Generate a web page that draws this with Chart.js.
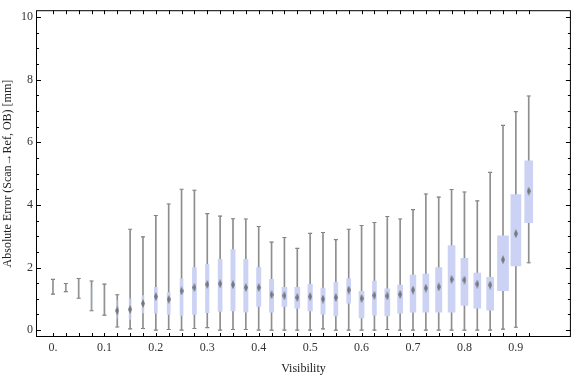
<!DOCTYPE html>
<html lang="en">
<head>
<meta charset="UTF-8">
<title>Absolute Error vs Visibility</title>
<style>
  html, body { margin: 0; padding: 0; background: #fff; }
  canvas { display: block; }
</style>
</head>
<body>
<canvas id="chart" width="576" height="377"></canvas>
<script src="https://cdn.jsdelivr.net/npm/chart.js"></script>
<script>
// box-whisker values, one entry per visibility bin
const visibility = [0, 0.025, 0.05, 0.075, 0.1, 0.125, 0.15, 0.175, 0.2, 0.225,
                    0.25, 0.275, 0.3, 0.325, 0.35, 0.375, 0.4, 0.425, 0.45, 0.475,
                    0.5, 0.525, 0.55, 0.575, 0.6, 0.625, 0.65, 0.675, 0.7, 0.725,
                    0.75, 0.775, 0.8, 0.825, 0.85, 0.875, 0.9, 0.925];
const whiskerLow = [1.15, 1.23, 1.02, 0.62, 0.48, 0.10, 0.04, 0.05, 0.00, 0.02,
                    0.00, 0.05, 0.08, 0.00, 0.02, 0.02, 0.00, 0.00, 0.00, 0.00,
                    0.00, 0.04, 0.00, 0.00, 0.00, 0.00, 0.02, 0.00, 0.00, 0.00,
                    0.00, 0.00, 0.00, 0.00, 0.00, 0.03, 0.09, 2.15];
const quartile1 = [1.20, 1.28, 1.10, 0.68, 0.70, 0.37, 0.34, 0.55, 0.54, 0.50,
                   0.47, 0.50, 0.56, 0.60, 0.61, 0.57, 0.76, 0.57, 0.76, 0.70,
                   0.61, 0.51, 0.45, 0.86, 0.39, 0.48, 0.45, 0.54, 0.57, 0.57,
                   0.57, 0.57, 0.79, 0.70, 0.64, 1.26, 2.05, 3.43];
const median = [null, null, null, null, null, 0.62, 0.66, 0.85, 1.07, 0.98,
                1.25, 1.36, 1.46, 1.48, 1.45, 1.36, 1.36, 1.13, 1.10, 1.04,
                1.07, 0.99, 1.04, 1.28, 1.01, 1.11, 1.09, 1.14, 1.28, 1.34,
                1.38, 1.62, 1.60, 1.47, 1.44, 2.25, 3.08, 4.44];
const quartile3 = [1.55, 1.45, 1.55, 1.36, 1.25, 0.94, 1.00, 1.10, 1.37, 1.20,
                   1.64, 2.00, 2.10, 2.26, 2.57, 2.26, 2.00, 1.62, 1.37, 1.37,
                   1.46, 1.34, 1.53, 1.65, 1.24, 1.57, 1.32, 1.44, 1.76, 1.79,
                   2.00, 2.70, 2.29, 1.82, 1.69, 3.01, 4.33, 5.41];
const whiskerHigh = [1.62, 1.49, 1.65, 1.57, 1.47, 1.13, 3.22, 2.98, 3.66, 4.03,
                     4.50, 4.47, 3.72, 3.64, 3.56, 3.55, 3.31, 2.81, 2.96, 2.61,
                     3.09, 3.12, 2.89, 3.22, 3.34, 3.44, 3.63, 3.55, 3.85, 4.35,
                     4.25, 4.49, 4.41, 4.13, 5.04, 6.54, 6.98, 7.48];

const xTickValues = [0, 0.1, 0.2, 0.3, 0.4, 0.5, 0.6, 0.7, 0.8, 0.9];
const xTickLabels = ['0.', '0.1', '0.2', '0.3', '0.4', '0.5', '0.6', '0.7', '0.8', '0.9'];
const yTickValues = [0, 2, 4, 6, 8, 10];
const yTickLabels = ['0', '2', '4', '6', '8', '10'];

// look of each box: width in px and fill opacity
const boxWidths = [3, 2, 2, 2, 2, 2, 2, 2, 3, 3,
                   3, 4, 3.5, 4, 4.3, 4.3, 4.3, 4.3, 5, 5,
                   4.5, 4.3, 4, 4, 5, 4, 5, 5, 5.7, 6,
                   6.3, 7, 7, 7, 7, 11, 10, 8];
const boxOpacity = [0.03, 0.15, 0.05, 0.25, 0.08, 0.45, 0.75, 0.85, 1, 1,
                    1, 1, 1, 1, 1, 1, 1, 1, 1, 1,
                    1, 1, 1, 1, 1, 1, 1, 1, 1, 1,
                    1, 1, 1, 1, 1, 1, 1, 1];

const textFont = { family: "'Liberation Serif', 'DejaVu Serif', serif", size: 12 };
const whiskerColor = '#8e8e8e';

// small diamond used for the median marker
const diamond = document.createElement('canvas');
diamond.width = 4;
diamond.height = 9;
(function () {
    const c = diamond.getContext('2d');
    c.fillStyle = 'rgba(105,105,105,0.85)';
    c.beginPath();
    c.moveTo(2, 0);
    c.lineTo(4, 4.5);
    c.lineTo(2, 9);
    c.lineTo(0, 4.5);
    c.closePath();
    c.fill();
})();

const capPoints = [];
visibility.forEach((v, i) => {
    capPoints.push({ x: v, y: whiskerLow[i] });
    capPoints.push({ x: v, y: whiskerHigh[i] });
});

const datasets = [];
datasets.push({
    type: 'bar',
    data: visibility.map((v, i) => ({ x: v, y: [whiskerLow[i], whiskerHigh[i]] })),
    backgroundColor: whiskerColor,
    barThickness: 1,
    grouped: false,
    order: 3
});
datasets.push({
    type: 'scatter',
    data: capPoints,
    pointStyle: 'line',
    pointRadius: 2,
    borderColor: '#7a7a7a',
    borderWidth: 1.1,
    order: 3
});
visibility.forEach((v, i) => {
    datasets.push({
        type: 'bar',
        data: [{ x: v, y: [quartile1[i], quartile3[i]] }],
        backgroundColor: `rgba(203,210,244,${boxOpacity[i]})`,
        borderWidth: 0,
        barThickness: boxWidths[i],
        grouped: false,
        order: 2
    });
});
datasets.push({
    type: 'scatter',
    data: visibility.map((v, i) => ({ x: v, y: median[i] })).filter(p => p.y !== null),
    pointStyle: diamond,
    order: 1
});

// Mathematica-style frame with inward ticks on all four sides
const framePlugin = {
    id: 'frame',
    afterDraw(chart) {
        const { ctx, chartArea: a, scales: { x, y } } = chart;
        ctx.save();
        ctx.strokeStyle = '#000';
        ctx.lineWidth = 1;
        ctx.beginPath();
        visibility.forEach(v => {
            const px = Math.round(x.getPixelForValue(v)) + 0.5;
            ctx.moveTo(px, a.bottom);
            ctx.lineTo(px, a.bottom - 4);
            ctx.moveTo(px, a.top);
            ctx.lineTo(px, a.top + 4);
        });
        for (let k = 0; k <= 20; k++) {
            const py = Math.round(y.getPixelForValue(k / 2)) + 0.5;
            const len = k % 4 === 0 ? 5 : 3;
            ctx.moveTo(a.left, py);
            ctx.lineTo(a.left + len, py);
            ctx.moveTo(a.right, py);
            ctx.lineTo(a.right - len, py);
        }
        ctx.stroke();
        ctx.strokeRect(a.left + 0.5, a.top + 0.5, a.width - 1, a.height - 1);
        ctx.restore();
    }
};

new Chart(document.getElementById('chart'), {
    type: 'bar',
    data: { datasets: datasets },
    options: {
        responsive: false,
        animation: false,
        events: [],
        layout: { padding: { top: 4, right: 1, left: 0, bottom: 0 } },
        plugins: { legend: { display: false }, tooltip: { enabled: false } },
        scales: {
            x: {
                type: 'linear',
                min: -0.033,
                max: 1.007,
                offset: false,
                grid: { display: false, drawTicks: false },
                border: { display: false },
                afterBuildTicks: s => { s.ticks = xTickValues.map(v => ({ value: v })); },
                afterFit: s => { s.height = 40; },
                ticks: {
                    callback: (v, i) => xTickLabels[i],
                    font: textFont,
                    color: '#333',
                    padding: 4,
                    autoSkip: false,
                    maxRotation: 0
                },
                title: {
                    display: true,
                    text: 'Visibility',
                    font: textFont,
                    color: '#222',
                    padding: { top: 0, bottom: 1 }
                }
            },
            y: {
                type: 'linear',
                min: -0.22,
                max: 10.22,
                grid: { display: false, drawTicks: false },
                border: { display: false },
                afterBuildTicks: s => { s.ticks = yTickValues.map(v => ({ value: v })); },
                afterFit: s => { s.width = 36; },
                ticks: {
                    callback: (v, i) => yTickLabels[i],
                    font: textFont,
                    color: '#333',
                    padding: 3,
                    autoSkip: false
                },
                title: {
                    display: true,
                    text: 'Absolute Error (Scan\u2192Ref, OB) [mm]',
                    font: textFont,
                    color: '#222',
                    padding: { top: 1, bottom: 0 }
                }
            }
        }
    },
    plugins: [framePlugin]
});
</script>
</body>
</html>
